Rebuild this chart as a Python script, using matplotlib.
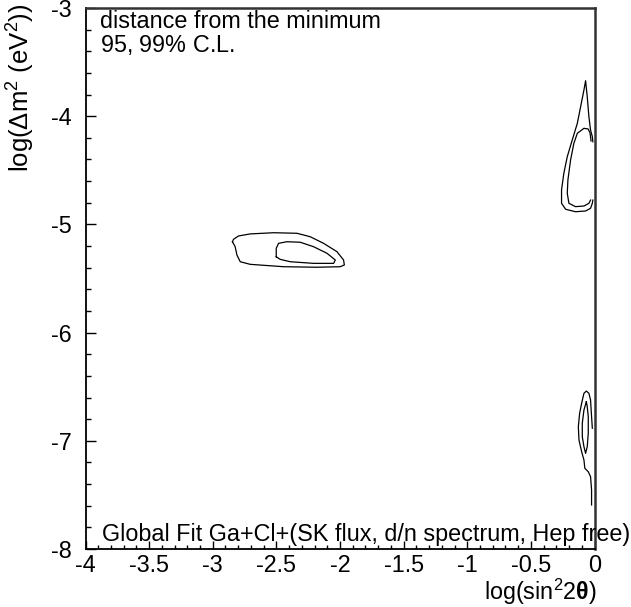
import numpy as np
import matplotlib
matplotlib.use("Agg")
import matplotlib.pyplot as plt
from matplotlib.ticker import MultipleLocator

plt.rcParams['font.family'] = ['Liberation Sans', 'DejaVu Sans']
plt.rcParams['mathtext.fontset'] = 'custom'
plt.rcParams['mathtext.rm'] = 'Liberation Sans'
plt.rcParams['mathtext.it'] = 'Liberation Sans:italic'
plt.rcParams['mathtext.bf'] = 'Liberation Sans:bold'
plt.rcParams['axes.unicode_minus'] = False

# Allowed-region contours in (log sin^2 2theta, log dm^2) space
# Low-mass-angle (SMA-like) island: 99% and 95% C.L.
sma_99_x = [-2.845, -2.837, -2.798, -2.706, -2.522, -2.338, -2.234, -2.129,
            -2.024, -1.972, -1.966, -1.998, -2.181, -2.444, -2.706, -2.784,
            -2.810, -2.824, -2.845]
sma_99_y = [-5.160, -5.138, -5.107, -5.088, -5.077, -5.082, -5.114, -5.175,
            -5.252, -5.329, -5.375, -5.391, -5.396, -5.391, -5.369, -5.345,
            -5.283, -5.206, -5.160]
sma_95_x = [-2.501, -2.501, -2.483, -2.417, -2.312, -2.208, -2.102, -2.037,
            -2.050, -2.208, -2.391, -2.470, -2.501]
sma_95_y = [-5.299, -5.221, -5.175, -5.160, -5.165, -5.206, -5.267, -5.329,
            -5.360, -5.360, -5.345, -5.323, -5.299]

# Large-angle island near maximal mixing (upper)
lma_99_x = [-0.013, -0.017, -0.031, -0.044, -0.057, -0.070, -0.083, -0.109,
            -0.135, -0.175, -0.214, -0.241, -0.259, -0.259, -0.227, -0.149,
            -0.070, -0.031, -0.017, -0.013]
lma_99_y = [-4.236, -4.189, -4.128, -4.005, -3.820, -3.672, -3.758, -3.912,
            -4.066, -4.220, -4.374, -4.528, -4.682, -4.805, -4.860, -4.883,
            -4.876, -4.851, -4.805, -4.775]
lma_95_x = [-0.027, -0.035, -0.050, -0.083, -0.135, -0.162, -0.188, -0.209,
            -0.214, -0.201, -0.149, -0.083, -0.044, -0.031]
lma_95_y = [-4.229, -4.155, -4.118, -4.112, -4.158, -4.250, -4.405, -4.590,
            -4.713, -4.805, -4.836, -4.830, -4.805, -4.775]

# Low-dm^2 island near maximal mixing
low_99_x = [-0.017, -0.023, -0.031, -0.044, -0.064, -0.083, -0.101, -0.117,
            -0.127, -0.122, -0.101, -0.083, -0.076, -0.049, -0.031, -0.023,
            -0.023]
low_99_y = [-6.884, -6.777, -6.623, -6.561, -6.540, -6.561, -6.653, -6.746,
            -6.870, -6.993, -7.101, -7.177, -7.254, -7.286, -7.332, -7.455,
            -7.593]
low_95_x = [-0.064, -0.083, -0.096, -0.096, -0.083, -0.070, -0.057, -0.049,
            -0.049, -0.057, -0.064]
low_95_y = [-6.639, -6.715, -6.838, -6.962, -7.054, -7.116, -7.054, -6.931,
            -6.777, -6.685, -6.639]

contours = [(sma_99_x, sma_99_y), (sma_95_x, sma_95_y),
            (lma_99_x, lma_99_y), (lma_95_x, lma_95_y),
            (low_99_x, low_99_y), (low_95_x, low_95_y)]

x_ticks = [-4, -3.5, -3, -2.5, -2, -1.5, -1, -0.5, 0]
x_tick_labels = ['-4', '-3.5', '-3', '-2.5', '-2', '-1.5', '-1', '-0.5', '0']
y_ticks = [-8, -7, -6, -5, -4, -3]
y_tick_labels = ['-8', '-7', '-6', '-5', '-4', '-3']

FS = 16.8
W, H = 631, 607
fig = plt.figure(figsize=(W / 100, H / 100), dpi=100)
ax = fig.add_axes([85.5 / W, 1 - 549 / H, (594.5 - 85.5) / W, (549 - 8) / H])

for cx, cy in contours:
    ax.plot(cx, cy, color='black', lw=0.9, solid_joinstyle='round')

ax.set_xlim(-4, 0)
ax.set_ylim(-8, -3)
ax.set_xticks(x_ticks)
ax.set_xticklabels(x_tick_labels)
ax.set_yticks(y_ticks)
ax.set_yticklabels(y_tick_labels)
ax.xaxis.set_minor_locator(MultipleLocator(0.1))
ax.yaxis.set_minor_locator(MultipleLocator(0.2))

ax.tick_params(axis='both', which='both', direction='in', top=False,
               right=False, color='black', width=1.0, labelsize=FS)
ax.tick_params(axis='x', which='major', length=5.5, pad=3.5)
ax.tick_params(axis='x', which='minor', length=3)
ax.tick_params(axis='y', which='major', length=7.2, pad=10)
ax.tick_params(axis='y', which='minor', length=3.6)

for side in ('left', 'bottom'):
    ax.spines[side].set_color('black')
    ax.spines[side].set_linewidth(1.3)
for side in ('top', 'right'):
    ax.spines[side].set_color('#333333')
    ax.spines[side].set_linewidth(1.8)

fig.text(597 / W, 1 - 607 / H, r'log(sin$^{2}$2$\mathbf{\theta}$)',
         ha='right', va='bottom', fontsize=FS)
fig.text(21 / W, 1 - 4 / H, r'log($\Delta$m$^{2}$ (eV$^{2}$))', rotation=90,
         ha='center', va='top', fontsize=18.5)

fig.text(100 / W, 1 - 10 / H, 'distance from the minimum', ha='left',
         va='top', fontsize=FS)
fig.text(100 / W, 1 - 33 / H, r'95, 99$\it{\%}$ C.L.', ha='left',
         va='top', fontsize=FS)
fig.text(102 / W, 1 - 541 / H,
         'Global Fit Ga+Cl+(SK flux, d/n spectrum, Hep free)',
         ha='left', va='baseline', fontsize=FS)

fig.savefig('out.png', dpi=100)
